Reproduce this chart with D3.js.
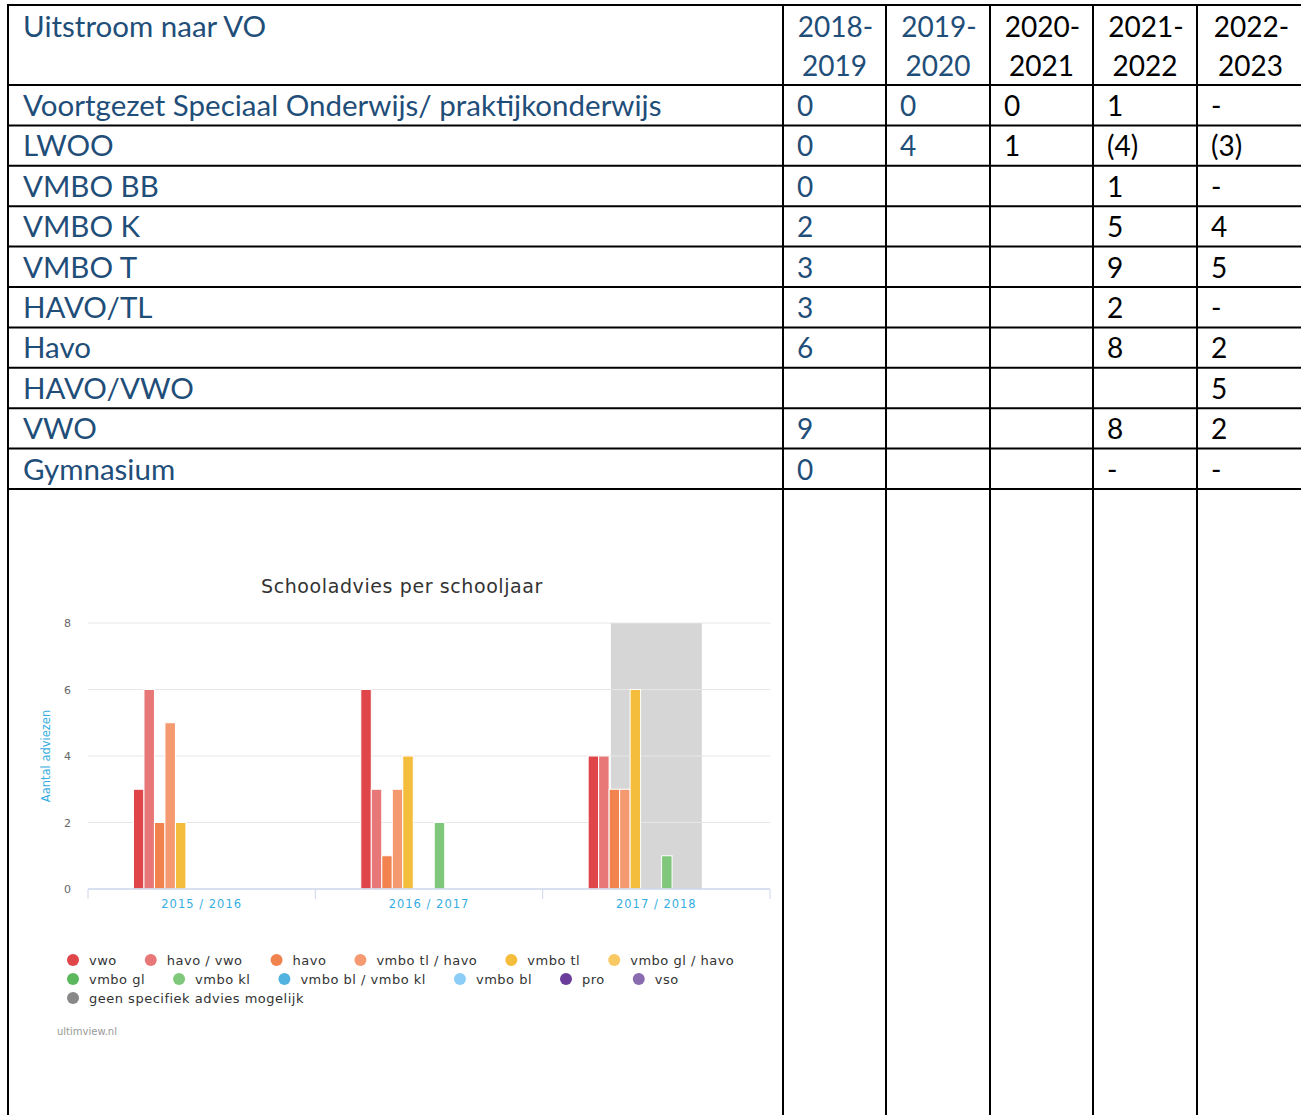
<!DOCTYPE html>
<html>
<head>
<meta charset="utf-8">
<script src="https://cdn.jsdelivr.net/npm/d3@7"></script>
<style>
  body { margin: 0; background: #fff; }
  svg { display: block; }
</style>
</head>
<body>
<div id="page"></div>
<script>
// table data
const years = ["2018-2019", "2019-2020", "2020-2021", "2021-2022", "2022-2023"];
const rowLabels = ["Voortgezet Speciaal Onderwijs/ praktijkonderwijs", "LWOO", "VMBO BB", "VMBO K",
    "VMBO T", "HAVO/TL", "Havo", "HAVO/VWO", "VWO", "Gymnasium"];
const col2018 = ["0", "0", "0", "2", "3", "3", "6", "", "9", "0"];
const col2019 = ["0", "4", "", "", "", "", "", "", "", ""];
const col2020 = ["0", "1", "", "", "", "", "", "", "", ""];
const col2021 = ["1", "(4)", "1", "5", "9", "2", "8", "", "8", "-"];
const col2022 = ["-", "(3)", "-", "4", "5", "-", "2", "5", "2", "-"];
const columns = [col2018, col2019, col2020, col2021, col2022];

// chart data
const categories = ["2015 / 2016", "2016 / 2017", "2017 / 2018"];
const seriesNames = ["vwo", "havo / vwo", "havo", "vmbo tl / havo", "vmbo tl", "vmbo gl / havo",
    "vmbo gl", "vmbo kl", "vmbo bl / vmbo kl", "vmbo bl", "pro", "vso", "geen specifiek advies mogelijk"];
const seriesColors = ["#e0454a", "#e87878", "#f2834f", "#f59a70", "#f4be3c", "#f8c862",
    "#5cb85c", "#7fc77a", "#53b3e0", "#8ccdf8", "#6a3d9a", "#8a6bb0", "#888888"];
const vwo = [3, 6, 4];
const havoVwo = [6, 3, 4];
const havo = [2, 1, 3];
const vmboTlHavo = [5, 3, 3];
const vmboTl = [2, 4, 6];
const vmboGlHavo = [0, 0, 0];
const vmboGl = [0, 0, 0];
const vmboKl = [0, 2, 1];
const vmboBlKl = [0, 0, 0];
const vmboBl = [0, 0, 0];
const pro = [0, 0, 0];
const vso = [0, 0, 0];
const geen = [0, 0, 0];
const seriesValues = [vwo, havoVwo, havo, vmboTlHavo, vmboTl, vmboGlHavo, vmboGl, vmboKl,
    vmboBlKl, vmboBl, pro, vso, geen];
const yTicks = [0, 2, 4, 6, 8];
const highlighted = "2017 / 2018";

const W = 1301, H = 1115;
const BLUE = "#1f4e79";
const TABLE_FONT = "Lato, 'Noto Sans', sans-serif";
const TABLE_SIZE = "29.5px";
const CHART_FONT = "'DejaVu Sans', Verdana, sans-serif";

var svg = d3.select("#page").append("svg")
    .attr("width", W)
    .attr("height", H);

// ---- table ----
var colEdges = [8, 783, 886, 990, 1093, 1197, 1304];
var headerTop = 5, headerBottom = 85, rowH = 40.4;

var rowY = d3.scaleLinear()
    .domain([0, rowLabels.length])
    .range([headerBottom, headerBottom + rowH * rowLabels.length]);

var table = svg.append("g").attr("class", "table");

// header
table.append("text")
    .attr("x", 23)
    .attr("y", 37)
    .attr("fill", BLUE)
    .style("font-family", TABLE_FONT)
    .style("font-size", TABLE_SIZE)
    .text("Uitstroom naar VO");

years.forEach(function (yr, i) {
    var cx = (colEdges[i + 1] + colEdges[i + 2]) / 2;
    var parts = yr.split("-");
    var g = table.append("text")
        .attr("text-anchor", "middle")
        .attr("fill", i < 2 ? BLUE : "#000")
        .style("font-family", TABLE_FONT)
        .style("font-size", "28px");
    g.append("tspan").attr("x", cx + 1).attr("y", 37).text(parts[0] + "-");
    g.append("tspan").attr("x", cx).attr("y", 76).text(parts[1]);
});

// body rows
rowLabels.forEach(function (label, r) {
    var base = rowY(r) + 31;
    table.append("text")
        .attr("x", 23)
        .attr("y", base)
        .attr("fill", BLUE)
        .style("font-family", TABLE_FONT)
        .style("font-size", TABLE_SIZE)
        .text(label);
    columns.forEach(function (col, c) {
        if (!col[r]) return;
        table.append("text")
            .attr("x", colEdges[c + 1] + 14)
            .attr("y", base)
            .attr("fill", c < 2 ? BLUE : "#000")
            .style("font-family", TABLE_FONT)
            .style("font-size", "28px")
            .text(col[r]);
    });
});

// grid lines of the table
var hLines = [headerTop, headerBottom].concat(d3.range(1, rowLabels.length + 1).map(function (i) { return rowY(i); }));
table.selectAll("line.h")
    .data(hLines)
    .enter()
    .append("line")
    .attr("x1", colEdges[0] - 1)
    .attr("x2", W + 5)
    .attr("y1", function (d) { return d; })
    .attr("y2", function (d) { return d; })
    .attr("stroke", "#000")
    .attr("stroke-width", 2);
table.selectAll("line.v")
    .data(colEdges)
    .enter()
    .append("line")
    .attr("x1", function (d) { return d; })
    .attr("x2", function (d) { return d; })
    .attr("y1", headerTop)
    .attr("y2", H + 5)
    .attr("stroke", "#000")
    .attr("stroke-width", 2);

// ---- embedded chart ----
var plot = { left: 88, right: 770, top: 623, bottom: 889 };
var chart = svg.append("g").attr("class", "chart");

chart.append("text")
    .attr("x", 402)
    .attr("y", 593)
    .attr("text-anchor", "middle")
    .attr("fill", "#333")
    .style("font-family", CHART_FONT)
    .style("font-size", "19px")
    .style("letter-spacing", "0.6px")
    .text("Schooladvies per schooljaar");

var x = d3.scaleBand()
    .domain(categories)
    .range([plot.left, plot.right]);

var xInner = d3.scaleBand()
    .domain(seriesNames)
    .range([x.bandwidth() * 0.2, x.bandwidth() * 0.8]);

var y = d3.scaleLinear()
    .domain([0, 8])
    .range([plot.bottom, plot.top]);

// highlighted band
chart.append("rect")
    .attr("x", x(highlighted) + x.bandwidth() * 0.3)
    .attr("y", y(8))
    .attr("width", x.bandwidth() * 0.4)
    .attr("height", y(0) - y(8))
    .attr("fill", "#d6d6d6");

// grid
chart.selectAll("line.grid")
    .data(yTicks.slice(1))
    .enter()
    .append("line")
    .attr("x1", plot.left)
    .attr("x2", plot.right)
    .attr("y1", function (d) { return y(d); })
    .attr("y2", function (d) { return y(d); })
    .attr("stroke", "#e6e6e6")
    .attr("stroke-width", 1);

// y axis labels
chart.selectAll("text.ytick")
    .data(yTicks)
    .enter()
    .append("text")
    .attr("x", 71)
    .attr("y", function (d) { return y(d) + 4; })
    .attr("text-anchor", "end")
    .attr("fill", "#666")
    .style("font-family", CHART_FONT)
    .style("font-size", "11px")
    .text(function (d) { return d; });

chart.append("text")
    .attr("transform", "translate(50," + y(4) + ") rotate(-90)")
    .attr("text-anchor", "middle")
    .attr("fill", "#36ade0")
    .style("font-family", CHART_FONT)
    .style("font-size", "11.5px")
    .text("Aantal adviezen");

// bars
var bars = [];
seriesValues.forEach(function (vals, s) {
    vals.forEach(function (v, c) {
        if (v > 0) bars.push({ series: seriesNames[s], color: seriesColors[s], cat: categories[c], value: v });
    });
});
chart.selectAll("rect.bar")
    .data(bars)
    .enter()
    .append("rect")
    .attr("class", "bar")
    .attr("x", function (d) { return x(d.cat) + xInner(d.series); })
    .attr("y", function (d) { return y(d.value); })
    .attr("width", xInner.bandwidth())
    .attr("height", function (d) { return y(0) - y(d.value); })
    .attr("fill", function (d) { return d.color; })
    .attr("stroke", "#fff")
    .attr("stroke-width", 1);

// x axis
var xAxis = chart.append("g")
    .attr("transform", "translate(0," + plot.bottom + ")");
xAxis.append("line")
    .attr("x1", plot.left)
    .attr("x2", plot.right)
    .attr("stroke", "#ccd6eb")
    .attr("stroke-width", 1.5);
xAxis.selectAll("line.tick")
    .data(categories.map(function (c) { return x(c); }).concat([plot.right]))
    .enter()
    .append("line")
    .attr("x1", function (d) { return d; })
    .attr("x2", function (d) { return d; })
    .attr("y1", 0)
    .attr("y2", 10)
    .attr("stroke", "#ccd6eb");
xAxis.selectAll("text")
    .data(categories)
    .enter()
    .append("text")
    .attr("x", function (d) { return x(d) + x.bandwidth() / 2; })
    .attr("y", 19)
    .attr("text-anchor", "middle")
    .attr("fill", "#36ade0")
    .style("font-family", CHART_FONT)
    .style("font-size", "11.5px")
    .style("letter-spacing", "1px")
    .text(function (d) { return d; });

// legend (flow layout)
var legend = chart.append("g").attr("class", "legend");
var lx = 67, ly = 960, maxX = 760;
seriesNames.forEach(function (name, i) {
    var item = legend.append("g");
    item.append("circle")
        .attr("cx", 6)
        .attr("cy", 0)
        .attr("r", 6)
        .attr("fill", seriesColors[i]);
    var t = item.append("text")
        .attr("x", 22)
        .attr("y", 4.5)
        .attr("fill", "#333")
        .style("font-family", CHART_FONT)
        .style("font-size", "13px")
        .style("letter-spacing", "0.5px")
        .text(name);
    var w = 22 + t.node().getComputedTextLength();
    if (lx + w > maxX) {
        lx = 67;
        ly += 19;
    }
    item.attr("transform", "translate(" + lx + "," + ly + ")");
    lx += w + 28;
});

chart.append("text")
    .attr("x", 57)
    .attr("y", 1035)
    .attr("fill", "#999")
    .style("font-family", CHART_FONT)
    .style("font-size", "10px")
    .text("ultimview.nl");
</script>
</body>
</html>
